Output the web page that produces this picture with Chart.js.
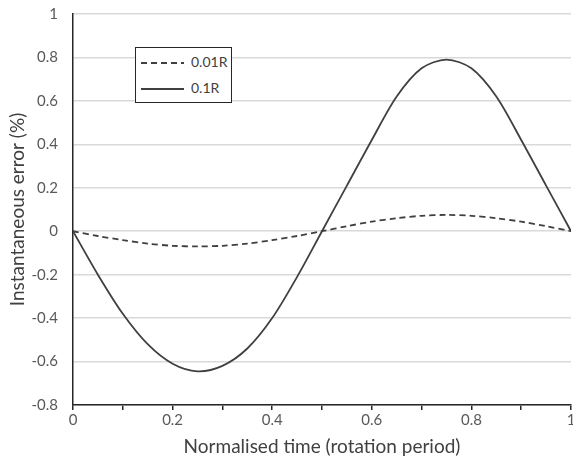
<!DOCTYPE html>
<html lang="en">

<head>
  <meta charset="utf-8">
  <title>Instantaneous error</title>
  <script src="https://cdn.jsdelivr.net/npm/chart.js"></script>
  <style>
    body { margin: 0; background: #fff; }
    #wrap { position: relative; width: 573px; height: 462px; }
    #legend {
      position: absolute; left: 135px; top: 47px; width: 97px; height: 56px;
      border: 1.5px solid #262626; box-sizing: border-box; background: #fff;
      font-family: Lato, sans-serif; font-size: 14px; color: #404040;
    }
    #legend div { position: absolute; left: 5px; height: 16px; line-height: 16px; white-space: nowrap; }
    #legend svg { vertical-align: middle; margin-right: 7px; }
  </style>
  <script type="text/javascript">
    // normalised time (rotation period)
    const times = [0, 0.05, 0.1, 0.15, 0.2, 0.25, 0.3, 0.35, 0.4, 0.45, 0.5,
      0.55, 0.6, 0.65, 0.7, 0.75, 0.8, 0.85, 0.9, 0.95, 1];
    // instantaneous error (%)
    const err001R = [0, -0.022, -0.041, -0.057, -0.067, -0.070, -0.067, -0.057, -0.041, -0.022, 0,
      0.023, 0.044, 0.060, 0.071, 0.075, 0.071, 0.060, 0.044, 0.023, 0];
    const err01R = [0, -0.20, -0.38, -0.52, -0.61, -0.645, -0.62, -0.54, -0.40, -0.21, 0,
      0.21, 0.42, 0.62, 0.75, 0.79, 0.75, 0.62, 0.42, 0.21, 0];
    const seriesNames = ["0.01R", "0.1R"];
    const yTicks = [-0.8, -0.6, -0.4, -0.2, 0, 0.2, 0.4, 0.6, 0.8, 1];

    function pts(ys) {
      return times.map((t, i) => ({ x: t, y: ys[i] }));
    }

    window.onload = function () {
      Chart.defaults.font.family = "Lato, sans-serif";
      Chart.defaults.color = "#595959";
      const ctx = document.getElementById("chart");
      new Chart(ctx, {
        type: "line",
        data: {
          datasets: [
            { label: seriesNames[0], data: pts(err001R), borderColor: "#404040", borderWidth: 1.8, borderDash: [6, 4], pointRadius: 0, tension: 0.3 },
            { label: seriesNames[1], data: pts(err01R), borderColor: "#404040", borderWidth: 1.8, pointRadius: 0, tension: 0.3 }
          ]
        },
        options: {
          responsive: false,
          animation: false,
          layout: { padding: { top: 14, right: 2, left: 0, bottom: 0 } },
          plugins: { legend: { display: false }, tooltip: { enabled: false } },
          scales: {
            x: {
              type: "linear", min: 0, max: 1,
              afterFit: s => { s.height = 57; s.paddingRight = 0; s.paddingLeft = 0; },
              ticks: {
                stepSize: 0.1, autoSkip: false, maxRotation: 0, padding: 1,
                font: { size: 15 },
                callback: v => (Math.round(v * 10) % 2 === 0 ? String(Math.round(v * 10) / 10) : "")
              },
              grid: { drawOnChartArea: false, tickLength: 5, color: "#262626", lineWidth: 1.5 },
              border: { color: "#262626", width: 1.5 },
              title: { display: true, text: "Normalised time (rotation period)", font: { size: 19 }, color: "#404040", padding: { top: 0 } }
            },
            y: {
              min: -0.8, max: 1,
              afterFit: s => { s.width = 73; s.paddingTop = 0; s.paddingBottom = 0; },
              afterBuildTicks: s => { s.ticks = yTicks.map(v => ({ value: v })); },
              ticks: {
                padding: 15, font: { size: 15 },
                callback: v => String(parseFloat(v.toFixed(1)))
              },
              grid: { drawTicks: false, color: "#d9d9d9", lineWidth: 1.5 },
              border: { color: "#262626", width: 1.5 },
              title: { display: true, text: "Instantaneous error (%)", font: { size: 19 }, color: "#404040", padding: { top: 6, bottom: 0 } }
            }
          }
        }
      });
    };
  </script>
</head>

<body>
  <div id="wrap">
    <canvas id="chart" width="573" height="462"></canvas>
    <div id="legend">
      <div style="top:6px"><svg width="43" height="4"><line x1="0" y1="2" x2="43" y2="2" stroke="#404040" stroke-width="1.8" stroke-dasharray="6,4" /></svg>0.01R</div>
      <div style="top:32px"><svg width="43" height="4"><line x1="0" y1="2" x2="43" y2="2" stroke="#404040" stroke-width="1.8" /></svg>0.1R</div>
    </div>
  </div>
</body>

</html>
